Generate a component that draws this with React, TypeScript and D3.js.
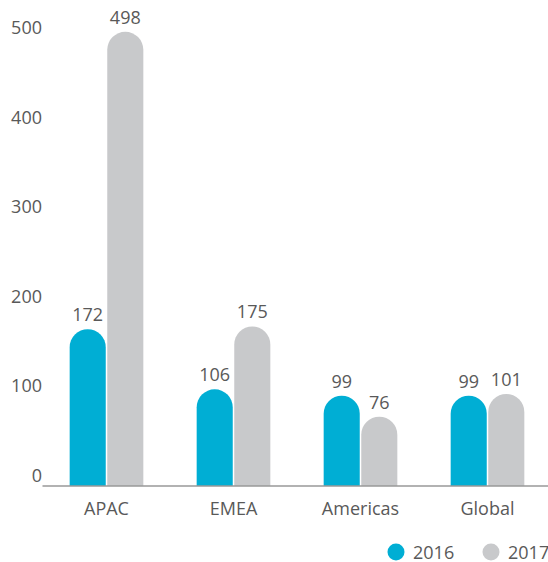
import React from "react";
import * as d3 from "d3";

const categories = ["APAC", "EMEA", "Americas", "Global"];
const seriesNames = ["2016", "2017"];
const values2016 = [172, 106, 99, 99];
const values2017 = [498, 175, 76, 101];
const yTicks = [0, 100, 200, 300, 400, 500];
const colors = ["#00aed4", "#c8c9cb"];

const W = 548;
const H = 562;
const FONT = "'Open Sans', 'Noto Sans', sans-serif";
const TEXT = "#595959";

export default function App() {
  const baseY = 486;
  const x0 = d3
    .scaleBand<string>()
    .domain(categories)
    .range([43, 551])
    .paddingInner(0.42)
    .paddingOuter(0.21);
  const x1 = d3
    .scaleBand<string>()
    .domain(seriesNames)
    .range([0, x0.bandwidth()])
    .paddingInner(0.04);
  const y = d3.scaleLinear().domain([0, 500]).range([baseY, 30]);
  const yLabel = d3.scaleLinear().domain([0, 500]).range([482, 34]);
  const seriesValues = [values2016, values2017];

  const barPath = (x: number, w: number, top: number) => {
    const r = w / 2;
    return `M${x},${baseY}V${top + r}A${r},${r} 0 0 1 ${x + w},${top + r}V${baseY}Z`;
  };

  return (
    <div style={{ position: "absolute", left: 0, top: 0 }}>
      <svg width={W} height={H} style={{ display: "block", fontFamily: FONT }}>
        {yTicks.map((t) => (
          <text key={t} x={42} y={yLabel(t)} textAnchor="end" fontSize={18} fill={TEXT}>
            {t}
          </text>
        ))}
        {categories.map((c, ci) => (
          <g key={c} transform={`translate(${x0(c)},0)`}>
            {seriesNames.map((s, si) => {
              const v = seriesValues[si][ci];
              const bx = x1(s)!;
              const w = x1.bandwidth();
              const top = y(v);
              return (
                <g key={s}>
                  <path d={barPath(bx, w, top)} fill={colors[si]} />
                  <text
                    x={bx + w / 2}
                    y={top - 8}
                    textAnchor="middle"
                    fontSize={18}
                    fill={TEXT}
                  >
                    {v}
                  </text>
                </g>
              );
            })}
            <text
              x={x0.bandwidth() / 2}
              y={515}
              textAnchor="middle"
              fontSize={18}
              fill={TEXT}
            >
              {c}
            </text>
          </g>
        ))}
        <line x1={42.5} x2={W} y1={baseY} y2={baseY} stroke="#999" strokeWidth={1.5} />
        {seriesNames.map((s, i) => {
          const lx = [396, 491][i];
          return (
            <g key={s}>
              <circle cx={lx} cy={552} r={8.5} fill={colors[i]} />
              <text x={lx + 17} y={558.5} fontSize={18} fill={TEXT}>
                {s}
              </text>
            </g>
          );
        })}
      </svg>
    </div>
  );
}
